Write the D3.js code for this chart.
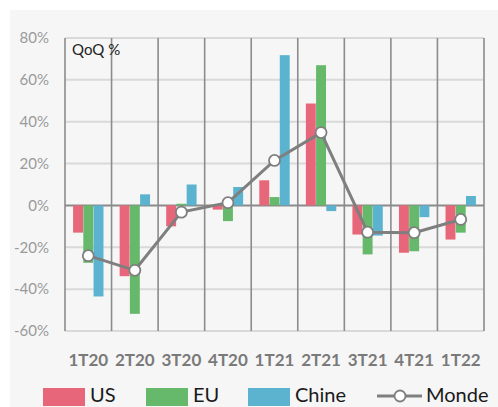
<!DOCTYPE html>
<html>
<head>
<meta charset="utf-8">
<script src="https://cdn.jsdelivr.net/npm/d3@7"></script>
<style>
  body { margin: 0; background: #fff; }
  svg { display: block; font-family: Lato, "Open Sans", sans-serif; }
</style>
</head>
<body>
<svg id="chart" width="498" height="407"></svg>
<script>
var categories = ['1T20', '2T20', '3T20', '4T20', '1T21', '2T21', '3T21', '4T21', '1T22'];
var us = [-13, -33.8, -10, -2, 12, 48.7, -13.9, -22.6, -16.3];
var eu = [-27.4, -51.8, 0.8, -7.5, 4, 67, -23.4, -21.9, -13];
var chine = [-43.5, 5.3, 10, 8.8, 71.8, -2.7, -14.4, -5.6, 4.5];
var monde = [-24, -31, -3.2, 1.3, 21.5, 34.8, -12.8, -13, -6.7];
var yTicks = [80, 60, 40, 20, 0, -20, -40, -60];
var seriesNames = ['US', 'EU', 'Chine'];
var seriesColors = ['#e8667a', '#66b86a', '#5cb3cf'];

var svg = d3.select('#chart');
var plotLeft = 65, plotRight = 484, plotTop = 38, plotBottom = 331;

svg.append('rect').attr('x', 10).attr('y', 10).attr('width', 488).attr('height', 397).attr('fill', '#f6f6f6');

var x = d3.scaleBand().domain(categories).range([plotLeft, plotRight]).padding(0);
var y = d3.scaleLinear().domain([-60, 80]).range([plotBottom, plotTop]);
var groupW = 31;
var x1 = d3.scaleBand().domain(seriesNames).range([0, groupW]).padding(0.03);

// horizontal grid
svg.append('g').selectAll('line').data(yTicks).enter().append('line')
  .attr('x1', plotLeft).attr('x2', plotRight)
  .attr('y1', function(d){ return y(d); }).attr('y2', function(d){ return y(d); })
  .attr('stroke', function(d){ return d === 0 ? '#8a8a8a' : '#d9d9d9'; })
  .attr('stroke-width', 2);

// vertical grid at category boundaries
var bounds = categories.map(function(c){ return x(c); }).concat([plotRight]);
svg.append('g').selectAll('line').data(bounds).enter().append('line')
  .attr('x1', function(d){ return d; }).attr('x2', function(d){ return d; })
  .attr('y1', plotTop).attr('y2', plotBottom)
  .attr('stroke', '#8c8c8c').attr('stroke-width', 1.6);

// y labels
svg.append('g').selectAll('text').data(yTicks).enter().append('text')
  .attr('x', 49).attr('y', function(d){ return y(d); }).attr('dy', '0.35em')
  .attr('text-anchor', 'end').attr('fill', '#9a9a9a').attr('font-size', 15)
  .text(function(d){ return d + '%'; });

// bars
var allSeries = [us, eu, chine];
allSeries.forEach(function(vals, s){
  svg.append('g').selectAll('rect').data(vals).enter().append('rect')
    .attr('x', function(d, i){ return x(categories[i]) + (x.bandwidth() - groupW) / 2 + x1(seriesNames[s]); })
    .attr('width', x1.bandwidth())
    .attr('y', function(d){ return y(Math.max(0, d)); })
    .attr('height', function(d){ return Math.abs(y(d) - y(0)); })
    .attr('fill', seriesColors[s]);
});

// monde line
var line = d3.line()
  .x(function(d, i){ return x(categories[i]) + x.bandwidth() / 2; })
  .y(function(d){ return y(d); });
svg.append('path').datum(monde).attr('d', line)
  .attr('fill', 'none').attr('stroke', '#7f7f7f').attr('stroke-width', 3);
svg.append('g').selectAll('circle').data(monde).enter().append('circle')
  .attr('cx', function(d, i){ return x(categories[i]) + x.bandwidth() / 2; })
  .attr('cy', function(d){ return y(d); })
  .attr('r', 5.5).attr('fill', '#fff').attr('stroke', '#7f7f7f').attr('stroke-width', 1.8);

// QoQ label
svg.append('text').attr('x', 72).attr('y', 55).attr('font-size', 15).attr('fill', '#222').text('QoQ %');

// x labels
svg.append('g').selectAll('text').data(categories).enter().append('text')
  .attr('x', function(d){ return x(d) + x.bandwidth() / 2; })
  .attr('y', 366).attr('text-anchor', 'middle')
  .attr('font-size', 17).attr('font-weight', 'bold').attr('fill', '#7a7a7a')
  .text(function(d){ return d; });

// legend
var legend = svg.append('g');
var legX = [43, 146, 248];
seriesNames.forEach(function(n, i){
  legend.append('rect').attr('x', legX[i]).attr('y', 388).attr('width', 42).attr('height', 18).attr('fill', seriesColors[i]);
  legend.append('text').attr('x', legX[i] + 47).attr('y', 402).attr('font-size', 20).attr('fill', '#1a1a1a').text(n);
});
legend.append('line').attr('x1', 377).attr('x2', 422).attr('y1', 396).attr('y2', 396)
  .attr('stroke', '#7f7f7f').attr('stroke-width', 3);
legend.append('circle').attr('cx', 400).attr('cy', 396).attr('r', 5.5)
  .attr('fill', '#fff').attr('stroke', '#7f7f7f').attr('stroke-width', 1.8);
legend.append('text').attr('x', 426).attr('y', 402).attr('font-size', 20).attr('fill', '#1a1a1a').text('Monde');
</script>
</body>
</html>
